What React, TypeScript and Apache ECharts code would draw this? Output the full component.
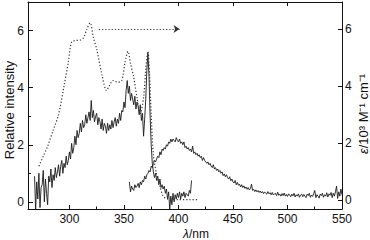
import React, { useEffect, useRef } from "react";
import * as echarts from "echarts";

// wavelength axis (nm)
const xMin = 262;
const xMax = 550;
const xMajorTicks = [300, 350, 400, 450, 500, 550];
const xMinorTicks = [325, 375, 425, 475, 525];

// left axis: relative intensity
const leftMin = -0.25;
const leftMax = 7;
const leftMajorTicks = [0, 2, 4, 6];
const leftMinorTicks = [1, 3, 5];

// right axis: epsilon / 10^3 M^-1 cm^-1
const rightMin = -0.3;
const rightMax = 6.95;
const rightMajorTicks = [0, 2, 4, 6];

// absorption spectrum (dotted, right axis)
const absX = [272, 276, 280, 285, 290, 295, 299, 302, 306, 310, 313, 316, 319, 322, 325, 330, 334, 337, 340, 344, 348, 351, 353.7, 356, 359, 362, 365, 368, 370, 372, 373.5, 375, 377, 380, 383, 386, 390, 400, 410, 419];
const absY = [1.2, 1.55, 1.9, 2.45, 3.0, 4.0, 4.85, 5.55, 5.6, 5.62, 5.7, 6.0, 6.22, 5.7, 5.3, 4.37, 3.85, 4.05, 4.2, 4.14, 4.2, 4.84, 5.22, 4.8, 4.3, 3.6, 3.05, 3.6, 4.6, 5.22, 4.4, 3.0, 1.6, 0.9, 0.5, 0.15, 0.05, 0.03, 0.03, 0.03];

// dotted arrow at epsilon = 6
const arrowStart = 327;
const arrowEnd = 401;
const arrowY = 6;

// excitation spectrum (solid, left axis), 1 nm steps from 268 nm
const excStart = 268;
const excY = [
  0.9, -0.3, 0.7, 0.1, 1.0, -0.2, 0.5, 0.6, 1.1, 0.0,
  0.8, 0.3, -0.1, 0.9, 0.7, 1.15, 0.5, 0.95, 0.75, 1.2,
  0.85, 1.05, 1.3, 0.9, 1.25, 1.45, 1.0, 1.35, 1.2, 1.6,
  1.3, 1.45,
  1.75, 1.5, 2.05, 1.7, 1.9, 2.3, 2.0, 2.5, 2.25, 2.4,
  2.75, 2.45, 2.85, 2.6, 2.7, 3.05, 2.75, 2.95, 3.15, 2.85,
  3.55, 2.95, 3.2, 2.8, 3.0, 3.1, 2.7, 2.95, 2.8, 2.55,
  2.9, 2.5, 2.75, 2.65, 2.4, 2.75, 2.5, 2.7, 2.55, 2.85,
  2.6, 2.8, 2.95, 2.65, 2.9, 2.75, 3.1, 2.85, 3.2, 3.15,
  3.5, 3.3, 3.9, 4.25, 3.8, 4.05, 3.55, 3.8, 3.6, 3.4,
  3.7, 3.25, 3.5, 3.35, 3.05, 3.4, 2.85, 3.1, 2.3, 2.9,
  3.6, 4.6, 5.2, 4.4, 3.0, 2.0, 1.35, 1.05, 0.85, 1.0,
  0.75, 0.9, 0.6, 0.8, 0.5, 0.6, 0.45, 0.55, 0.3, 0.45,
  0.1, 0.35, -0.25, 0.2, -0.1, 0.3, 0.0, 0.25, 0.1, 0.3,
  0.15, 0.35, 0.1, 0.3, 0.2, 0.35, 0.15, 0.3, 0.25, 0.2,
  0.4, 0.3, 0.75,
];

// emission spectrum (solid, left axis), 1 nm steps from 355 nm
const emStart = 355;
const emY = [
  0.7, 0.35, 0.55, 0.45, 0.4, 0.6, 0.5, 0.55, 0.65, 0.5,
  0.7, 0.6, 0.75, 0.7, 0.9, 0.8, 0.95, 1.0, 1.1, 1.05,
  1.25, 1.2, 1.35, 1.45, 1.4, 1.5, 1.6, 1.55, 1.75, 1.65,
  1.85, 1.8, 1.9, 1.85, 2.0, 1.95, 2.1, 2.05, 2.2, 2.1,
  2.2, 2.15, 2.1, 2.25, 2.15, 2.1, 2.2, 2.05, 2.1, 2.0,
  2.1, 1.9, 1.95, 1.85, 1.9, 1.8, 1.85, 1.75, 1.95, 1.7,
  1.75, 1.65, 1.7, 1.6, 1.65, 1.55, 1.6, 1.45, 1.55, 1.45,
  1.4, 1.35, 1.4, 1.3, 1.35, 1.25, 1.2, 1.3, 1.15, 1.2,
  1.1, 1.15, 1.05, 1.1, 1.0, 1.05, 0.92, 0.98, 0.88, 0.95,
  0.85, 0.8, 0.88, 0.74, 0.8, 0.7, 0.66, 0.75, 0.6, 0.68,
  0.58, 0.62, 0.52, 0.6, 0.5, 0.56, 0.47, 0.52, 0.44, 0.5,
  0.42, 0.46, 0.62, 0.4, 0.44, 0.36, 0.42, 0.35, 0.4, 0.33,
  0.38, 0.31, 0.36, 0.29, 0.35, 0.3, 0.27, 0.36, 0.28, 0.32,
  0.25, 0.33, 0.24, 0.28, 0.3, 0.22, 0.34, 0.23, 0.27, 0.2,
  0.29, 0.22, 0.31, 0.2, 0.26, 0.19, 0.28, 0.24, 0.18, 0.27,
  0.21, 0.3, 0.17, 0.25, 0.2, 0.28, 0.16, 0.24, 0.27, 0.18,
  0.26, 0.2, 0.15, 0.27, 0.22, 0.3, 0.16, 0.24, 0.19, 0.28,
  0.4, 0.15, 0.25, 0.2, 0.13, 0.27, 0.22, 0.3, 0.16, 0.25,
  0.2, 0.32, 0.17, 0.28, 0.23, 0.33, 0.15, 0.3, 0.2, 0.35,
  0.55, 0.12, 0.35, 0.2, 0.45, 0.25,
];

const leftTitle = "Relative intensity";
const FONT = "'Liberation Sans', Arial, Helvetica, sans-serif";
const INK = "#111";

export default function App() {
  const ref = useRef<HTMLDivElement>(null);

  useEffect(() => {
    if (!ref.current) return;
    const chart = echarts.init(ref.current, null, { renderer: "svg" });

    const absData = absX.map((x, i) => [x, absY[i]]);
    const excData = excY.map((y, i) => [excStart + i, y]);
    const emData = emY.map((y, i) => [emStart + i, y]);

    const axisLineStyle = { color: INK, width: 1 };
    const labelStyle = { color: INK, fontSize: 12, fontFamily: FONT };

    chart.setOption({
      animation: false,
      backgroundColor: "#fff",
      grid: { left: 28, right: 28, top: 2, bottom: 31, containLabel: false },
      xAxis: [
        {
          type: "value",
          position: "bottom",
          min: xMin,
          max: xMax,
          axisLine: { show: true, onZero: false, lineStyle: axisLineStyle },
          axisTick: { show: true, inside: true, length: 4, customValues: xMajorTicks, lineStyle: axisLineStyle },
          axisLabel: { show: true, customValues: xMajorTicks, margin: 4, ...labelStyle },
          splitLine: { show: false },
        },
        {
          type: "value",
          position: "bottom",
          min: xMin,
          max: xMax,
          axisLine: { show: false, onZero: false },
          axisTick: { show: true, inside: true, length: 2.5, customValues: xMinorTicks, lineStyle: axisLineStyle },
          axisLabel: { show: false },
          splitLine: { show: false },
        },
        {
          type: "value",
          position: "top",
          min: xMin,
          max: xMax,
          axisLine: { show: true, onZero: false, lineStyle: axisLineStyle },
          axisTick: { show: true, inside: true, length: 4, customValues: xMajorTicks, lineStyle: axisLineStyle },
          axisLabel: { show: false },
          splitLine: { show: false },
        },
      ],
      yAxis: [
        {
          type: "value",
          position: "left",
          min: leftMin,
          max: leftMax,
          axisLine: { show: true, onZero: false, lineStyle: axisLineStyle },
          axisTick: { show: true, inside: true, length: 5, customValues: leftMajorTicks, lineStyle: axisLineStyle },
          axisLabel: { show: true, customValues: leftMajorTicks, margin: 4, ...labelStyle },
          splitLine: { show: false },
        },
        {
          type: "value",
          position: "left",
          min: leftMin,
          max: leftMax,
          axisLine: { show: false, onZero: false },
          axisTick: { show: true, inside: true, length: 3, customValues: leftMinorTicks, lineStyle: axisLineStyle },
          axisLabel: { show: false },
          splitLine: { show: false },
        },
        {
          type: "value",
          position: "right",
          min: rightMin,
          max: rightMax,
          axisLine: { show: true, onZero: false, lineStyle: axisLineStyle },
          axisTick: { show: true, inside: true, length: 4, customValues: rightMajorTicks, lineStyle: axisLineStyle },
          axisLabel: { show: true, customValues: rightMajorTicks, margin: 3, ...labelStyle },
          splitLine: { show: false },
        },
      ],
      series: [
        {
          name: "excitation",
          type: "line",
          xAxisIndex: 0,
          yAxisIndex: 0,
          data: excData,
          showSymbol: false,
          silent: true,
          lineStyle: { color: "#1a1a1a", width: 0.9 },
          z: 3,
        },
        {
          name: "emission",
          type: "line",
          xAxisIndex: 0,
          yAxisIndex: 0,
          data: emData,
          showSymbol: false,
          silent: true,
          lineStyle: { color: "#1a1a1a", width: 0.9 },
          z: 3,
        },
        {
          name: "absorption",
          type: "line",
          xAxisIndex: 0,
          yAxisIndex: 2,
          data: absData,
          smooth: 0.3,
          showSymbol: false,
          silent: true,
          lineStyle: { color: "#333", width: 1.2, type: [1.2, 2] },
          z: 4,
          markLine: {
            silent: true,
            symbol: ["none", "arrow"],
            symbolSize: 6,
            label: { show: false },
            lineStyle: { color: "#333", width: 1.2, type: [1.2, 2] },
            emphasis: { disabled: true },
            data: [
              [
                { coord: [arrowStart, arrowY] },
                { coord: [arrowEnd, arrowY] },
              ],
            ],
          },
        },
      ],
      graphic: [
        {
          type: "text",
          x: 9,
          y: 110,
          rotation: Math.PI / 2,
          style: {
            text: leftTitle,
            fontSize: 13,
            fontFamily: FONT,
            fill: INK,
            align: "center",
            verticalAlign: "middle",
          },
        },
        {
          type: "text",
          x: 363,
          y: 114,
          rotation: Math.PI / 2,
          style: {
            text: "{i|ε}/10³ M⁻¹ cm⁻¹",
            fontSize: 13,
            fontFamily: FONT,
            fill: INK,
            align: "center",
            verticalAlign: "middle",
            rich: {
              i: { fontStyle: "italic", fontSize: 13, fontFamily: FONT, fill: INK },
            },
          },
        },
        {
          type: "text",
          x: 196,
          y: 234,
          style: {
            text: "{i|λ}/nm",
            fontSize: 12,
            fontFamily: FONT,
            fill: INK,
            align: "center",
            verticalAlign: "middle",
            rich: {
              i: { fontStyle: "italic", fontSize: 12, fontFamily: FONT, fill: INK },
            },
          },
        },
      ],
    });

    return () => chart.dispose();
  }, []);

  return (
    <div
      ref={ref}
      style={{ position: "fixed", left: 0, top: 0, width: 370, height: 240, background: "#fff" }}
    />
  );
}
